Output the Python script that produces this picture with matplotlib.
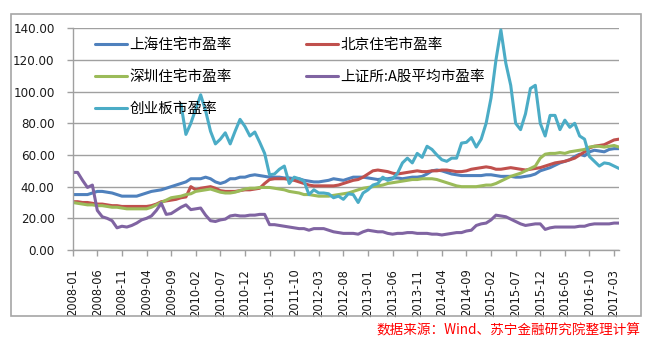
import matplotlib
matplotlib.use("Agg")
import matplotlib.pyplot as plt
from matplotlib.patches import Rectangle

plt.rcParams['font.family'] = ['DejaVu Sans', 'Noto Sans CJK SC']

# Monthly observations, 2008-01 .. 2017-04
start_year, start_month = 2008, 1
n_months = 112
months = [f"{start_year + (start_month - 1 + i) // 12}-{(start_month - 1 + i) % 12 + 1:02d}"
          for i in range(n_months)]

shanghai = [
    35, 35, 35, 35, 36, 37, 37, 36.5, 36, 35,
    34, 34, 34, 34, 35, 36, 37, 37.5, 38, 39,
    40, 41, 42, 43, 45, 45, 45, 46, 45, 43,
    42, 43, 45, 45, 46, 46, 47, 47.5, 47, 46.5,
    46, 46, 46, 45.5, 45.5, 45, 45, 44, 43.5, 43,
    43, 43.5, 44, 45, 44.5, 44, 45, 46, 46, 46,
    45.5, 45, 44.5, 45, 45, 45.5, 45.5, 45, 45.5, 46,
    46, 46.5, 48, 50, 50.5, 50, 49, 48, 47.5, 47,
    47, 47, 47, 47, 47.5, 47.5, 47, 46.5, 46.5, 46.5,
    46, 46, 46.5, 47, 48, 50, 51, 52, 53.5, 55,
    56, 57, 59, 60.5, 59.5, 62, 63, 62.5, 62, 63.5,
    64, 64,
]
beijing = [
    30.5, 30.5, 30, 30, 29.5, 29, 29, 28.5, 28, 28,
    27.5, 27.5, 27.5, 27.5, 27.5, 27.5, 28, 29, 30.5, 31,
    31.5, 32, 33, 33.5, 40, 38, 39, 39.5, 40, 39,
    37.5, 37, 37, 37, 37.5, 38, 38, 38.5, 39, 42,
    44.5, 45, 45, 45, 44.5, 44, 43, 42, 41, 40.5,
    40.5, 40.5, 40.5, 40.5, 41, 42, 43, 44, 44.5, 46,
    48, 50, 50.5, 50, 49.5, 48.5, 48, 48.5, 49, 49.5,
    50, 49.5, 49.5, 50, 50, 50.5, 50.5, 50, 49.5, 49.5,
    50, 51, 51.5, 52, 52.5, 52, 51, 51, 51.5, 52,
    51.5, 51, 50.5, 51, 51.5, 52, 53, 54, 55, 55.5,
    56, 57, 58, 60, 62, 64.5, 65.5, 66, 66.5, 68,
    69.5, 70,
]
shenzhen = [
    30, 29.5, 29, 28.5, 28.5, 28, 28, 27.5, 27, 27,
    26.5, 26, 26, 26, 26, 26, 27, 28.5, 30, 31.5,
    33, 33.5, 34, 35, 35.5, 37, 37.5, 38, 38.5, 37.5,
    36.5, 36, 36, 36.5, 37.5, 38.5, 39, 39, 39.5, 39.5,
    39.5, 39, 38.5, 38, 37, 36.5, 36, 35, 35, 34.5,
    34, 34, 34, 34.5, 35, 35.5, 36, 37, 38, 39,
    39.5, 40, 40.5, 41, 42, 42.5, 43, 43.5, 44, 44.5,
    44.5, 45, 45, 45, 44.5, 43.5, 42.5, 41.5, 40.5, 40,
    40, 40, 40, 40.5, 41, 41, 42, 43.5, 45, 46.5,
    47.5, 48.5, 50, 51.5, 53, 58, 60.5, 61, 61, 61.5,
    61, 62, 62.5, 63, 63.5, 65, 65.5, 65.5, 65, 65.5,
    66, 65,
]
sse_a = [
    49, 49, 44, 39.5, 41, 25, 21, 20, 18.5, 14,
    15, 14.5, 15.5, 17, 19, 20, 21.5, 25, 29.5, 22.5,
    23, 25, 27, 28.5, 25.5, 26, 26.5, 22, 18.5, 18,
    19, 19.5, 21.5, 22, 21.5, 21.5, 22, 22, 22.5, 22.5,
    16, 16, 15.5, 15, 14.5, 14, 13.5, 13.5, 12.5, 13.5,
    13.5, 13.5, 12.5, 11.5, 11, 10.5, 10.5, 10.5, 10, 11.5,
    12.5, 12, 11.5, 11.5, 10.5, 10, 10.5, 10.5, 11, 11,
    10.5, 10.5, 10.5, 10, 10, 9.5, 10, 10.5, 11, 11,
    12, 12.5, 15.5, 16.5, 17, 19, 22, 21.5, 21, 19.5,
    18, 16.5, 15.5, 16, 16.5, 16.5, 13, 14, 14.5, 14.5,
    14.5, 14.5, 14.5, 15, 15, 16, 16.5, 16.5, 16.5, 16.5,
    17, 17,
]
# ChiNext begins trading in late 2009
chinext_start = 22
chinext = [
    92, 73, 80, 89, 98, 88, 75, 67,
    70, 74, 67, 75, 82.5, 78, 72, 74.5, 68, 61,
    47.5, 48, 51, 53, 42, 46, 45, 43.5, 35, 38,
    36, 36, 35.5, 33, 34, 32, 35.5, 35, 30, 36,
    38, 41, 42, 46, 44, 45, 48.5, 55, 58, 55,
    61, 58.5, 65.5, 63.5, 60, 57, 56, 58, 58, 67.5,
    68, 71, 65, 70, 80, 96, 120, 139, 118, 104,
    80, 76, 86, 102, 104, 80, 72, 85, 85, 76,
    82, 77.5, 80, 72, 70, 59, 56, 53, 55, 54.5,
    53, 51.5,
]

series = [
    ("上海住宅市盈率", shanghai, 0, "#4F81BD"),
    ("北京住宅市盈率", beijing, 0, "#C0504D"),
    ("深圳住宅市盈率", shenzhen, 0, "#9BBB59"),
    ("上证所:A股平均市盈率", sse_a, 0, "#8064A2"),
    ("创业板市盈率", chinext, chinext_start, "#4BACC6"),
]

W, H = 653, 346
fig = plt.figure(figsize=(W / 100, H / 100), dpi=100)
fig.patch.set_facecolor("white")

# outer chart border
fig.patches.append(Rectangle((11 / W, 1 - 316 / H), 630 / W, 302 / H,
                             transform=fig.transFigure, fill=False,
                             edgecolor="#A6A6A6", linewidth=1.2))

ax = fig.add_axes([72.7 / W, 1 - 250 / H, (619 - 72.7) / W, (250 - 28.3) / H])

lines = {}
for name, vals, offset, color in series:
    xs = list(range(offset, offset + len(vals)))
    ln, = ax.plot(xs, vals, color=color, linewidth=2.2, solid_joinstyle="round",
                  solid_capstyle="round", label=name)
    lines[name] = ln

ax.set_xlim(0, n_months - 1)
ax.set_ylim(0, 140)
ax.set_yticks(range(0, 141, 20))
ax.set_yticklabels([f"{v:.2f}" for v in range(0, 141, 20)])
tick_pos = list(range(0, n_months, 5))
ax.set_xticks(tick_pos)
ax.set_xticklabels([months[i] for i in tick_pos], rotation=90)

ax.grid(axis="y", color="#A0A0A0", linewidth=1.0)
ax.set_axisbelow(True)
for side in ("top", "right"):
    ax.spines[side].set_visible(False)
for side in ("left", "bottom"):
    ax.spines[side].set_color("#A0A0A0")
    ax.spines[side].set_linewidth(1.0)
ax.tick_params(axis="both", colors="#A0A0A0", labelcolor="#1a1a1a",
               labelsize=8.6, length=4, width=1.0)
ax.tick_params(axis="y", pad=9)
ax.tick_params(axis="x", pad=9.5, labelsize=8.3)

order = ["上海住宅市盈率", "深圳住宅市盈率", "创业板市盈率", "北京住宅市盈率", "上证所:A股平均市盈率"]
leg = fig.legend([lines[k] for k in order], order, ncol=2, loc="upper left",
                 bbox_to_anchor=(95 / W, 1 - 38 / H), frameon=False,
                 prop={"family": ["Noto Sans CJK SC", "DejaVu Sans"], "size": 10.5},
                 handlelength=2.2, handletextpad=0.15, columnspacing=5.1,
                 labelspacing=1.24, borderpad=0, borderaxespad=0)

fig.text(640 / W, 1 - 330 / H, "数据来源：Wind、苏宁金融研究院整理计算",
         color="#FF0000", fontsize=9.8, style="italic", ha="right", va="center",
         family=["Noto Sans CJK SC", "DejaVu Sans"])

fig.savefig("out.png", dpi=100, facecolor="white")
